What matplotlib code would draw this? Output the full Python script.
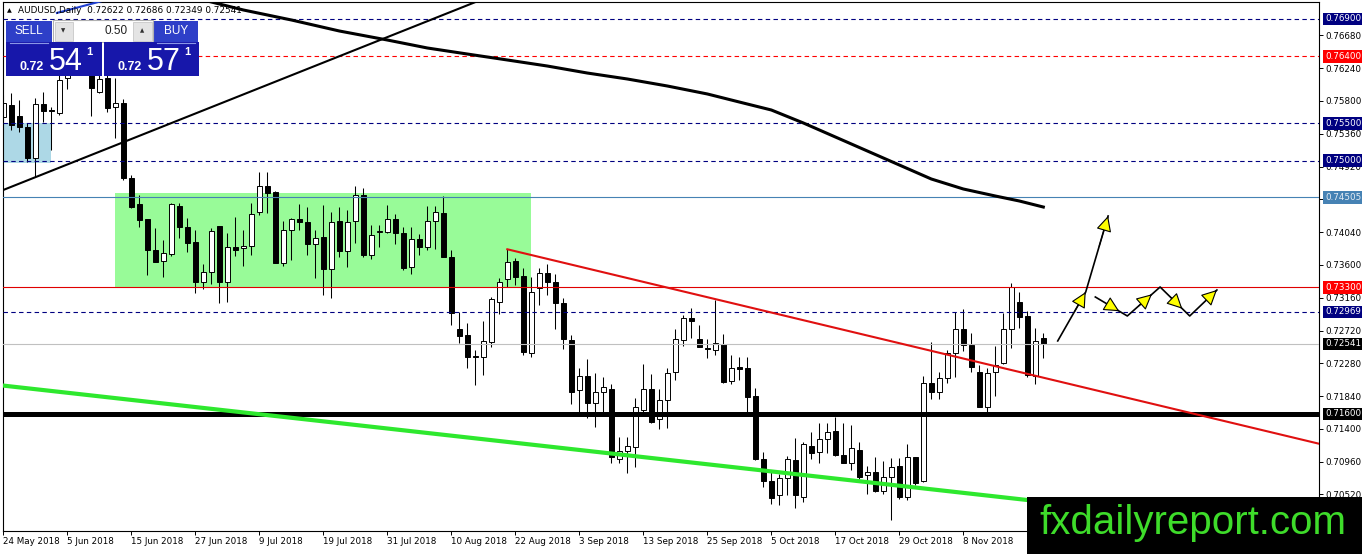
import matplotlib
matplotlib.use("Agg")
import matplotlib.pyplot as plt
from matplotlib.patches import Rectangle

W, H, DPI = 1362, 554, 100

# daily AUDUSD candles, bar 0 = 24 May 2018
opens = [0.75585, 0.75746, 0.75599, 0.75451, 0.75035, 0.75760, 0.75679, 0.75639, 0.76108, 0.76250,
         0.76600, 0.76216, 0.75921, 0.76108, 0.75719, 0.75773, 0.74767, 0.74418, 0.74216, 0.73801,
         0.73653, 0.73747, 0.74391, 0.74109, 0.73908, 0.73371, 0.73505, 0.74122, 0.73371, 0.73841,
         0.73828, 0.73854, 0.74310, 0.74660, 0.74579, 0.73626, 0.74069, 0.74216, 0.74176, 0.73881,
         0.73975, 0.73546, 0.74190, 0.73787, 0.74190, 0.74539, 0.73734, 0.74042, 0.74042, 0.74216,
         0.74029, 0.73573, 0.73948, 0.73841, 0.74190, 0.74297, 0.73707, 0.72740, 0.72660, 0.72378,
         0.72365, 0.72566, 0.73103, 0.73412, 0.73653, 0.73452, 0.72418, 0.73291, 0.73492, 0.73371,
         0.73090, 0.72593, 0.71922, 0.72110, 0.71748, 0.71895, 0.71936, 0.70996, 0.71103, 0.71157,
         0.71654, 0.71936, 0.71533, 0.71788, 0.72164, 0.72593, 0.72888, 0.72606, 0.72485, 0.72459,
         0.72539, 0.72043, 0.72231, 0.72217, 0.71842, 0.70996, 0.70701, 0.70513, 0.70741, 0.70983,
         0.70486, 0.71170, 0.71090, 0.71264, 0.71372, 0.71050, 0.70942, 0.71117, 0.70781, 0.70822,
         0.70567, 0.70755, 0.70902, 0.70486, 0.71023, 0.70701, 0.72016, 0.71895, 0.72083, 0.72418,
         0.72740, 0.72526, 0.72164, 0.71694, 0.72164, 0.72284, 0.72740, 0.73103, 0.72915, 0.72110,
         0.72622]
highs = [0.75880, 0.75907, 0.75813, 0.75505, 0.75840, 0.75921, 0.75719, 0.76283, 0.76417, 0.76500,
         0.76760, 0.76350, 0.76149, 0.76190, 0.76108, 0.75827, 0.74807, 0.74539, 0.74216, 0.74096,
         0.73935, 0.74431, 0.74431, 0.74230, 0.74069, 0.73613, 0.74096, 0.74122, 0.74029, 0.74243,
         0.74069, 0.74431, 0.74847, 0.74847, 0.74592, 0.74190, 0.74230, 0.74418, 0.74377, 0.74069,
         0.74404, 0.74310, 0.74377, 0.74337, 0.74660, 0.74633, 0.74136, 0.74136, 0.74404, 0.74284,
         0.74109, 0.74109, 0.74015, 0.74391, 0.74391, 0.74525, 0.73801, 0.72969, 0.72821, 0.72459,
         0.72847, 0.73170, 0.73425, 0.73814, 0.73694, 0.73559, 0.73438, 0.73559, 0.73613, 0.73479,
         0.73157, 0.72660, 0.72217, 0.72338, 0.72150, 0.72097, 0.72003, 0.71291, 0.71291, 0.71815,
         0.72271, 0.72137, 0.71936, 0.72217, 0.72740, 0.72928, 0.73022, 0.72794, 0.72606, 0.73130,
         0.72673, 0.72392, 0.72365, 0.72365, 0.71949, 0.71090, 0.70822, 0.70795, 0.71036, 0.71278,
         0.71224, 0.71358, 0.71479, 0.71479, 0.71560, 0.71479, 0.71452, 0.71224, 0.70902, 0.71023,
         0.70969, 0.71009, 0.71009, 0.71197, 0.71023, 0.72110, 0.72566, 0.72164, 0.72459, 0.72969,
         0.73009, 0.72686, 0.72258, 0.72217, 0.72512, 0.72955, 0.73358, 0.73237, 0.72982, 0.72754,
         0.72686]
lows = [0.75478, 0.75411, 0.75384, 0.74981, 0.74780, 0.75518, 0.75142, 0.75612, 0.75961, 0.76180,
        0.76300, 0.75599, 0.75910, 0.75652, 0.75303, 0.74740, 0.74364, 0.74109, 0.73465, 0.73640,
        0.73438, 0.73720, 0.73962, 0.73774, 0.73224, 0.73277, 0.73345, 0.73090, 0.73103, 0.73720,
        0.73586, 0.73734, 0.74270, 0.74297, 0.73626, 0.73586, 0.73667, 0.74069, 0.73734, 0.73425,
        0.73197, 0.73157, 0.73707, 0.73573, 0.73895, 0.73707, 0.73680, 0.73841, 0.74029, 0.73881,
        0.73532, 0.73479, 0.73734, 0.73801, 0.73814, 0.73707, 0.72794, 0.72552, 0.72217, 0.71989,
        0.72123, 0.72499, 0.72942, 0.73304, 0.73331, 0.72392, 0.72365, 0.73063, 0.73197, 0.72740,
        0.72472, 0.71734, 0.71627, 0.71546, 0.71425, 0.71627, 0.70942, 0.70942, 0.70808, 0.70889,
        0.71627, 0.71479, 0.71399, 0.71412, 0.72056, 0.72512, 0.72619, 0.72499, 0.72351, 0.72392,
        0.72016, 0.72003, 0.72056, 0.71587, 0.70983, 0.70620, 0.70392, 0.70379, 0.70513, 0.70339,
        0.70419, 0.70996, 0.70942, 0.71077, 0.71036, 0.70942, 0.70849, 0.70728, 0.70526, 0.70553,
        0.70526, 0.70178, 0.70459, 0.70446, 0.70647, 0.70687, 0.71802, 0.71802, 0.72016, 0.72097,
        0.72445, 0.72164, 0.71694, 0.71600, 0.71842, 0.72271, 0.72485, 0.72754, 0.72097, 0.72003,
        0.72349]
closes = [0.75773, 0.75478, 0.75451, 0.75035, 0.75760, 0.75666, 0.75670, 0.76082, 0.76350, 0.76400,
          0.76400, 0.75974, 0.76095, 0.75706, 0.75773, 0.74767, 0.74377, 0.74203, 0.73801, 0.73640,
          0.73761, 0.74418, 0.74109, 0.73895, 0.73371, 0.73505, 0.74055, 0.73371, 0.73841, 0.73801,
          0.73854, 0.74284, 0.74660, 0.74565, 0.73626, 0.74069, 0.74216, 0.74176, 0.73881, 0.73962,
          0.73546, 0.74176, 0.73787, 0.74176, 0.74539, 0.73734, 0.74002, 0.74055, 0.74216, 0.74029,
          0.73559, 0.73948, 0.73841, 0.74190, 0.74310, 0.73707, 0.72955, 0.72646, 0.72365, 0.72365,
          0.72579, 0.73143, 0.73371, 0.73640, 0.73438, 0.72432, 0.73237, 0.73492, 0.73371, 0.73090,
          0.72606, 0.71895, 0.72110, 0.71748, 0.71895, 0.71963, 0.71023, 0.71103, 0.71170, 0.71694,
          0.71936, 0.71493, 0.71788, 0.72150, 0.72606, 0.72888, 0.72847, 0.72499, 0.72472, 0.72552,
          0.72030, 0.72217, 0.72204, 0.71828, 0.70996, 0.70701, 0.70473, 0.70741, 0.70996, 0.70513,
          0.71197, 0.71077, 0.71264, 0.71358, 0.71050, 0.70942, 0.71144, 0.70755, 0.70822, 0.70567,
          0.70755, 0.70889, 0.70486, 0.71023, 0.70674, 0.72016, 0.71895, 0.72083, 0.72418, 0.72740,
          0.72526, 0.72231, 0.71694, 0.72150, 0.72258, 0.72740, 0.73304, 0.72901, 0.72123, 0.72579,
          0.72541]

# long moving average, read at a few bars
ma_bars = [24, 30, 36, 42, 48, 53, 58, 63, 68, 73, 78, 83, 88, 92, 96, 100, 104, 108, 112,
           116, 120, 124, 127, 130]
ma_values = [0.77182, 0.77021, 0.76887, 0.76739, 0.76618, 0.76511, 0.76430, 0.76350, 0.76269,
             0.76175, 0.76095, 0.76001, 0.75894, 0.75786, 0.75679, 0.75505, 0.75317, 0.75129,
             0.74941, 0.74753, 0.74619, 0.74525, 0.74458, 0.74377]

date_bars = [0, 8, 16, 24, 32, 40, 48, 56, 64, 72, 80, 88, 96, 104, 112, 120]
date_labels = ["24 May 2018", "5 Jun 2018", "15 Jun 2018", "27 Jun 2018", "9 Jul 2018",
               "19 Jul 2018", "31 Jul 2018", "10 Aug 2018", "22 Aug 2018", "3 Sep 2018",
               "13 Sep 2018", "25 Sep 2018", "5 Oct 2018", "17 Oct 2018", "29 Oct 2018",
               "8 Nov 2018"]

price_ticks = [0.76680, 0.76240, 0.75800, 0.75360, 0.74920, 0.74480, 0.74040, 0.73600,
               0.73160, 0.72720, 0.72280, 0.71840, 0.71400, 0.70960, 0.70520]
hidden_ticks = [0.74480]  # covered by the 0.74505 line label

# horizontal levels
level_prices = [0.76900, 0.76400, 0.75500, 0.75000, 0.74505, 0.73300, 0.72969, 0.72541, 0.71600]
level_colors = ["#000080", "#ff0000", "#000080", "#000080", "#4682b4", "#e00000", "#000080",
                "#c0c0c0", "#000000"]
level_styles = ["dash", "dash", "dash", "dash", "solid", "solid", "dash", "solid", "solid"]
level_widths = [0.8, 0.8, 0.8, 0.8, 0.8, 0.8, 0.8, 0.8, 3.6]
label_bg = ["#000080", "#ff0000", "#000080", "#000080", "#4682b4", "#ff0000", "#000080",
            "#000000", "#000000"]
label_fg = ["white", "white", "white", "white", "#e4ecf4", "white", "white", "white", "white"]

# trend lines: (bar, price) end points
up_line = [(0.0, 0.74606), (59.5, 0.77148)]
red_line = [(63.0, 0.73810), (164.5, 0.71200)]
green_line = [(0.0, 0.71981), (164.5, 0.70008)]
blue_line = [(6.7, 0.76981), (13.0, 0.77160)]

ymin, ymax = 0.70030, 0.77128
xmin, xmax = -0.04, 164.46

fig = plt.figure(figsize=(W / DPI, H / DPI), dpi=DPI)
ax = fig.add_axes([3 / W, 23 / H, 1316 / W, 529 / H])
ax.set_xlim(xmin, xmax)
ax.set_ylim(ymin, ymax)

# background boxes
ax.add_patch(Rectangle((-0.04, 0.74968), 5.94, 0.75505 - 0.74968, fc="#add8e6", ec="none", zorder=0.5))
ax.add_patch(Rectangle((13.96, 0.73300), 52.0, 0.74565 - 0.73300, fc="#98fb98", ec="none", zorder=0.5))

# candles
bars = list(range(len(opens)))
ax.vlines(bars, lows, highs, color="black", lw=0.75, zorder=2)
bottoms = [min(o, c) for o, c in zip(opens, closes)]
heights = [max(abs(c - o), 0.00003) for o, c in zip(opens, closes)]
fills = ["white" if c >= o else "black" for o, c in zip(opens, closes)]
ax.bar(bars, heights, bottom=bottoms, width=0.56, color=fills, edgecolor="black",
       linewidth=0.7, zorder=2.1)

# levels
for p, col, st, lw in zip(level_prices, level_colors, level_styles, level_widths):
    ls = (0, (4, 3)) if st == "dash" else "-"
    ax.axhline(p, color=col, lw=lw, ls=ls, zorder=3)

# trend lines and moving average
ax.plot(*zip(*up_line), color="black", lw=1.5, zorder=3.2)
ax.plot(*zip(*blue_line), color="#1f3fd0", lw=1.5, zorder=3.2)
ax.plot(ma_bars, ma_values, color="black", lw=2.2, zorder=3.2, solid_joinstyle="round")
ax.plot(*zip(*red_line), color="#e01010", lw=1.5, zorder=3.2)
ax.plot(*zip(*green_line), color="#2ee82e", lw=3.0, zorder=3.2)

# forecast arrows
arrow_a = [(131.8, 0.72580), (135.3, 0.73237), (138.1, 0.74257)]
zigzag = [(136.5, 0.73170), (140.5, 0.72915), (144.6, 0.73304), (148.3, 0.72915), (151.7, 0.73264)]


def draw_arrows(points, tips):
    ax.plot(*zip(*points), color="black", lw=1.2, zorder=4)
    for (x0, y0), (x1, y1), t in zip(points[:-1], points[1:], tips):
        tip = (x0 + (x1 - x0) * t, y0 + (y1 - y0) * t)
        tail = (x0 + (x1 - x0) * (t - 0.4), y0 + (y1 - y0) * (t - 0.4))
        ax.annotate("", xy=tip, xytext=tail, zorder=4.2,
                    arrowprops=dict(arrowstyle="-|>,head_length=0.6,head_width=0.3",
                                    fc="yellow", ec="black", lw=0.8, mutation_scale=16,
                                    shrinkA=0, shrinkB=0))


draw_arrows(arrow_a, [1.0, 1.0])
draw_arrows(zigzag, [0.75, 0.75, 0.75, 1.0])

# axes styling
for sp in ax.spines.values():
    sp.set_color("black")
    sp.set_linewidth(0.8)
ax.yaxis.tick_right()
ax.set_yticks(price_ticks)
ax.set_yticklabels(["" if p in hidden_ticks else f"{p:.5f}" for p in price_ticks])
ax.set_xticks(date_bars)
ax.set_xticklabels(date_labels)
for lbl in ax.get_xticklabels():
    lbl.set_horizontalalignment("left")
ax.tick_params(axis="both", labelsize=6.3, length=3, width=0.7, pad=1.5, direction="out",
               colors="black")

ytr = ax.get_yaxis_transform()
for p, bg, fg in zip(level_prices, label_bg, label_fg):
    ax.text(1 + 6 / 1316, p, f"{p:.5f}", transform=ytr, fontsize=6.3, color=fg,
            ha="left", va="center", clip_on=False, zorder=6,
            bbox=dict(boxstyle="square,pad=0.2", fc=bg, ec="none"))

# overlay in pixel coordinates: trade panel, title, watermark
ov = fig.add_axes([0, 0, 1, 1], zorder=10)
ov.set_xlim(0, W)
ov.set_ylim(H, 0)
ov.axis("off")

ov.text(9, 10.5, "▲", fontsize=4.5, ha="center", va="center", color="black")
ov.text(18, 10.5, "AUDUSD,Daily  0.72622 0.72686 0.72349 0.72541", fontsize=6.4,
        ha="left", va="center", color="black")

btn_blue = "#2e3fc8"
box_blue = "#1717aa"
pf = "Liberation Sans"
ov.add_patch(Rectangle((6, 21), 46, 21, fc=btn_blue, ec="none"))
ov.add_patch(Rectangle((154, 21), 44, 21, fc=btn_blue, ec="none"))
ov.text(29, 31.5, "SELL", color="white", fontsize=8.5, ha="center", va="center", family=pf)
ov.text(176, 31.5, "BUY", color="white", fontsize=8.5, ha="center", va="center", family=pf)
ov.add_patch(Rectangle((53, 20), 100, 22, fc="white", ec="#b0b0b0", lw=0.8))
ov.add_patch(Rectangle((54.5, 21.5), 18, 19, fc="#e4e4e4", ec="#c8c8c8", lw=0.6))
ov.add_patch(Rectangle((132.5, 21.5), 19, 19, fc="#e4e4e4", ec="#c8c8c8", lw=0.6))
ov.text(63.5, 31, "▼", fontsize=4, ha="center", va="center", color="#303030")
ov.text(142, 31, "▲", fontsize=4, ha="center", va="center", color="#303030")
ov.text(128, 31.5, "0.50", fontsize=8.5, ha="right", va="center", color="#202020", family=pf)

ov.add_patch(Rectangle((6, 42), 96, 34, fc=box_blue, ec="none"))
ov.add_patch(Rectangle((104, 42), 95, 34, fc=box_blue, ec="none"))
ov.plot([10, 48], [42.5, 42.5], color="#8a96e6", lw=0.8)
ov.plot([157, 195], [42.5, 42.5], color="#8a96e6", lw=0.8)
for x_small, x_big, x_sup, big in [(20, 49, 86, "54"), (118, 147, 184, "57")]:
    ov.text(x_small, 70, "0.72", color="white", fontsize=9, fontweight="bold",
            ha="left", va="baseline", family=pf)
    ov.text(x_big, 70, big, color="white", fontsize=22, ha="left", va="baseline", family=pf)
    ov.text(x_sup, 55, "1", color="white", fontsize=8, fontweight="bold",
            ha="left", va="baseline", family=pf)

ov.add_patch(Rectangle((1027, 497), W - 1027, H - 497, fc="black", ec="none"))
ov.text(1193, 523, "fxdailyreport.com", color="#3edc2a", fontsize=29, ha="center",
        va="center", family=pf)

fig.savefig("out.png", dpi=DPI)
